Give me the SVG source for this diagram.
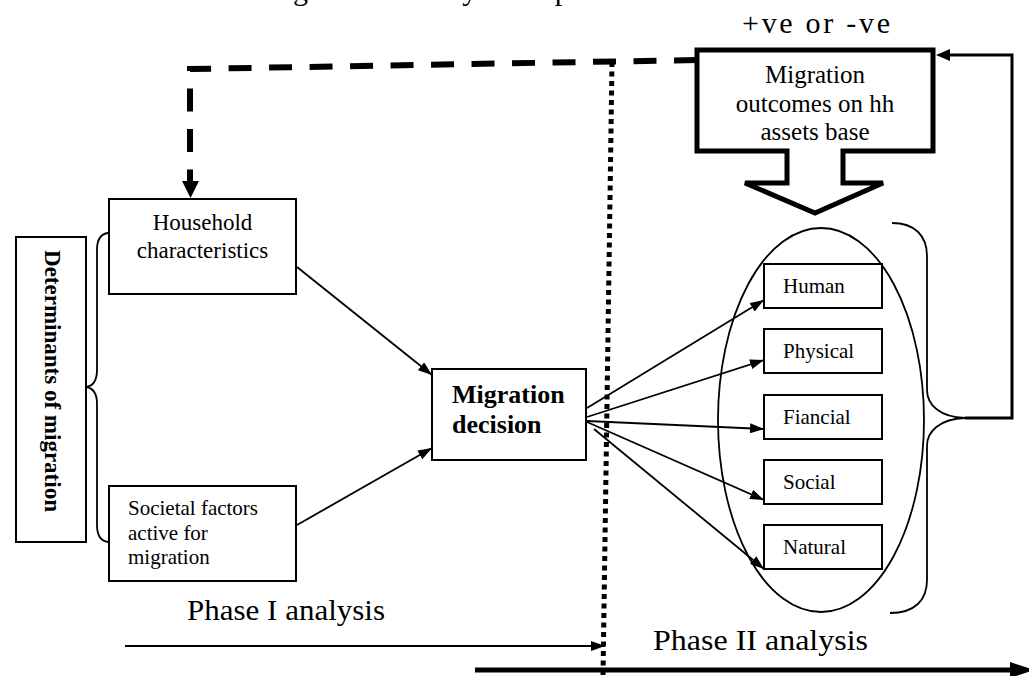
<svg xmlns="http://www.w3.org/2000/svg" width="1029" height="676" viewBox="0 0 1029 676">
  <style>
    text { font-family: "Liberation Serif", "Times New Roman", serif; fill: #000; }
    .box { fill: #fff; stroke: #000; stroke-width: 2; }
    .thin { fill: none; stroke: #000; stroke-width: 1.8; }
    .b { font-weight: bold; }
  </style>
  <defs>
    <marker id="ah" viewBox="0 0 14 10" refX="14" refY="5" markerWidth="14" markerHeight="10" orient="auto" markerUnits="userSpaceOnUse">
      <path d="M0,0 L14,5 L0,10 Z" fill="#000"/>
    </marker>
  </defs>

  <rect width="1029" height="676" fill="#fff"/>

  <!-- caption, cut off by the top edge -->
  <text x="268" y="0" font-size="30">Figure 1.3: Study conceptual</text>

  <!-- sign of the outcome -->
  <text x="742" y="33" font-size="30" textLength="148" lengthAdjust="spacing">+ve or -ve</text>

  <!-- assets circle and its brace -->
  <g id="assets-ring">
    <ellipse cx="821" cy="420" rx="103" ry="192" class="thin"/>
    <path class="thin" d="M892,223 C915,223 927,236 927,256 V390 C927,405 940,417 965,418 C940,419 927,431 927,446 V580 C927,600 915,613 890,613"/>
  </g>

  <!-- brace joining the two determinants -->
  <path id="determinants-brace" class="thin" d="M108,233 C100,234 97,240 97,250 V370 C97,380 93,386 86,387 C93,388 97,394 97,404 V525 C97,535 100,541 108,542"/>

  <g id="connectors">
    <!-- phase divider -->
    <path d="M612,62 L603,676" fill="none" stroke="#000" stroke-width="5" stroke-dasharray="5 4.5"/>
    <!-- feedback from outcomes to household -->
    <path d="M697,60 L190,69 V182" fill="none" stroke="#000" stroke-width="6" stroke-dasharray="23 17.5"/>
    <polygon points="182,181 199,181 190.5,198" fill="#000"/>
    <!-- feedback from assets to outcomes -->
    <path d="M965,418 H1012 V55 H950" fill="none" stroke="#000" stroke-width="3"/>
    <polygon points="950,49 950,61 936,55" fill="#000"/>
    <!-- determinants to decision -->
    <line x1="297" y1="267" x2="432" y2="375" class="thin" marker-end="url(#ah)"/>
    <line x1="297" y1="525" x2="432" y2="448" class="thin" marker-end="url(#ah)"/>
    <!-- decision to the five assets -->
    <line x1="587" y1="408" x2="764" y2="300" class="thin" marker-end="url(#ah)"/>
    <line x1="587" y1="417" x2="764" y2="360" class="thin" marker-end="url(#ah)"/>
    <line x1="587" y1="421" x2="764" y2="429" class="thin" marker-end="url(#ah)"/>
    <line x1="587" y1="422" x2="764" y2="500" class="thin" marker-end="url(#ah)"/>
    <line x1="594" y1="429" x2="764" y2="569" class="thin" marker-end="url(#ah)"/>
    <!-- phase arrows -->
    <line x1="125" y1="646" x2="605" y2="646" class="thin" marker-end="url(#ah)"/>
    <line x1="475" y1="670" x2="1012" y2="670" stroke="#000" stroke-width="5"/>
    <polygon points="1010,662 1034,670 1010,678" fill="#000"/>
  </g>

  <g id="determinants">
    <rect x="16" y="237" width="70" height="305" class="box"/>
    <text class="b" font-size="23" text-anchor="middle" transform="translate(45,381) rotate(90)">Determinants of migration</text>
  </g>

  <g id="household">
    <rect x="109" y="199" width="187" height="95" class="box"/>
    <text font-size="23" text-anchor="middle" x="202.5" y="230">Household</text>
    <text font-size="23" text-anchor="middle" x="202.5" y="258">characteristics</text>
  </g>

  <g id="societal">
    <rect x="109" y="486" width="187" height="95" class="box"/>
    <text font-size="21" x="128" y="515">Societal factors</text>
    <text font-size="21" x="128" y="540">active for</text>
    <text font-size="21" x="128" y="564">migration</text>
  </g>

  <g id="decision">
    <rect x="432" y="369" width="154" height="91" class="box" stroke-width="2.5"/>
    <text class="b" font-size="26" x="452" y="403">Migration</text>
    <text class="b" font-size="26" x="452" y="433">decision</text>
  </g>

  <g id="outcomes">
    <path d="M697,50 H933 V151 H843 V183 H883 L815,213 L745,183 H787 V151 H697 Z" fill="#fff" stroke="#000" stroke-width="5" stroke-linejoin="miter"/>
    <text font-size="25" text-anchor="middle" x="815" y="83">Migration</text>
    <text font-size="25" text-anchor="middle" x="815" y="112">outcomes on hh</text>
    <text font-size="25" text-anchor="middle" x="815" y="140">assets base</text>
  </g>

  <g id="human">
    <rect x="764" y="264" width="118" height="44" class="box"/>
    <text font-size="21" x="783" y="293">Human</text>
  </g>
  <g id="physical">
    <rect x="764" y="329" width="118" height="44" class="box"/>
    <text font-size="21" x="783" y="358">Physical</text>
  </g>
  <g id="financial">
    <rect x="764" y="395" width="118" height="44" class="box"/>
    <text font-size="21" x="783" y="424">Fiancial</text>
  </g>
  <g id="social">
    <rect x="764" y="460" width="118" height="44" class="box"/>
    <text font-size="21" x="783" y="489">Social</text>
  </g>
  <g id="natural">
    <rect x="764" y="525" width="118" height="44" class="box"/>
    <text font-size="21" x="783" y="554">Natural</text>
  </g>

  <g id="phase-labels">
    <text font-size="30" x="187" y="620" textLength="198" lengthAdjust="spacingAndGlyphs">Phase I analysis</text>
    <text font-size="30" x="653" y="650" textLength="215" lengthAdjust="spacingAndGlyphs">Phase II analysis</text>
  </g>
</svg>
